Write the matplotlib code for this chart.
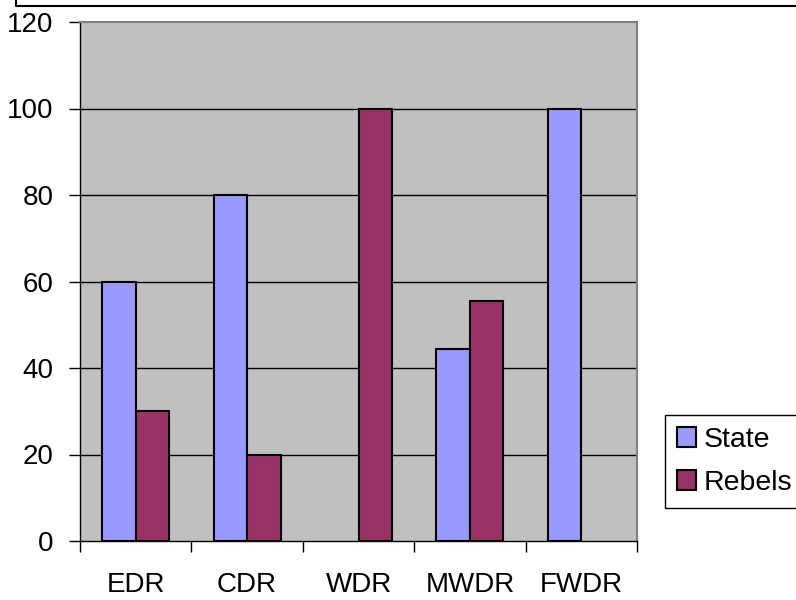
import matplotlib
matplotlib.use("Agg")
import matplotlib.pyplot as plt
import numpy as np
from matplotlib.lines import Line2D

categories = ["EDR", "CDR", "WDR", "MWDR", "FWDR"]
state = [60, 80, 0, 44.4, 100]
rebels = [30, 20, 100, 55.6, 0]
yticks = [0, 20, 40, 60, 80, 100, 120]

plt.rcParams['font.family'] = ['Liberation Sans', 'DejaVu Sans']

W, H = 796, 600
fig = plt.figure(figsize=(W/100, H/100), dpi=100)
x0, x1, ytop, ybot = 80, 637, 22, 541
ax = fig.add_axes([x0/W, 1-ybot/H, (x1-x0)/W, (ybot-ytop)/H])
ax.set_facecolor('#C0C0C0')

x = np.arange(len(categories))
bw = 0.3
b1 = ax.bar(x - bw/2, state, bw, color='#9999FF', edgecolor='black', linewidth=1.5, label='State', zorder=3)
b2 = ax.bar(x + bw/2, rebels, bw, color='#993366', edgecolor='black', linewidth=1.5, label='Rebels', zorder=3)
for bars, vals in ((b1, state), (b2, rebels)):
    for r, v in zip(bars, vals):
        if v == 0:
            r.set_visible(False)

ax.set_xlim(-0.5, len(categories) - 0.5)
ax.set_ylim(0, 120)
ax.set_yticks(yticks)
ax.set_yticklabels([str(v) for v in yticks], fontsize=20)
for v in yticks[1:-1]:
    ax.axhline(v, color='black', linewidth=1.0, zorder=1)

ax.set_xticks(np.arange(len(categories) + 1) - 0.5)
ax.set_xticklabels([])
ax.set_xticks(x, minor=True)
ax.set_xticklabels(categories, minor=True, fontsize=20)
ax.tick_params(axis='x', which='minor', length=0, pad=22)
ax.tick_params(axis='x', which='major', length=8, width=1, direction='out')
ax.tick_params(axis='y', length=8, width=1, direction='out', pad=11)

for s in ['top', 'right']:
    ax.spines[s].set_color('#808080')
    ax.spines[s].set_linewidth(1.5)
for s in ['left', 'bottom']:
    ax.spines[s].set_color('black')
    ax.spines[s].set_linewidth(1.0)

# partial outer frame at the top
fig.add_artist(Line2D([16/W, 16/W, 1.0], [1.0, 1-6/H, 1-6/H], transform=fig.transFigure,
                      color='black', linewidth=1.5))

leg = fig.legend(handles=[b1, b2], labels=['State', 'Rebels'],
                 loc='upper left', bbox_to_anchor=(665/W, 1-415/H), fontsize=20.5,
                 frameon=True, fancybox=False, edgecolor='black', framealpha=1,
                 handlelength=0.66, handleheight=0.66, handletextpad=0.28,
                 borderpad=0.42, labelspacing=0.6, borderaxespad=0)
leg.get_frame().set_linewidth(1.0)

fig.savefig('out.png', dpi=100)
